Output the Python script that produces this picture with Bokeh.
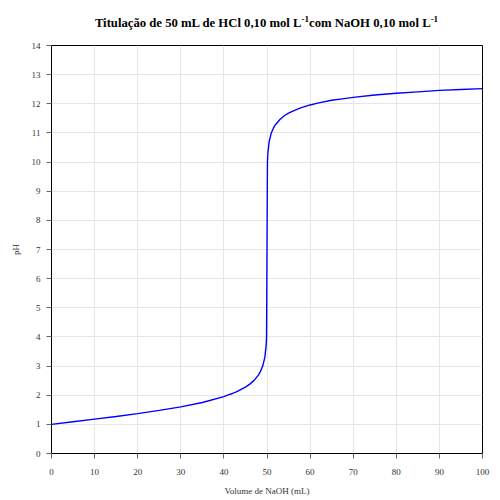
from bokeh.plotting import figure
from bokeh.models import SingleIntervalTicker, Range1d, Div
from bokeh.layouts import column
from bokeh.embed import file_html
from bokeh.resources import INLINE

# Volume of NaOH added (mL) and resulting pH
volume_ml = [0, 5, 10, 15, 20, 25, 30, 35, 40, 41, 42, 43, 44, 45, 46, 47, 48,
             48.5, 49, 49.5, 49.8, 49.9, 50, 50.1, 50.2, 50.5, 51, 51.5, 52, 53,
             54, 55, 56, 57.5, 58, 60, 62, 65, 67.5, 70, 75, 80, 85, 90, 95, 100]
ph_values = [1.00, 1.09, 1.18, 1.27, 1.37, 1.48, 1.60, 1.75, 1.95, 2.01, 2.06,
             2.12, 2.20, 2.28, 2.38, 2.51, 2.69, 2.82, 3.00, 3.30, 3.70, 4.00,
             7.00, 10.00, 10.30, 10.70, 11.00, 11.17, 11.29, 11.46, 11.59, 11.68,
             11.75, 11.84, 11.87, 11.96, 12.03, 12.12, 12.17, 12.22, 12.30,
             12.36, 12.41, 12.46, 12.49, 12.52]

title_html = ("Titulação de 50 mL de HCl 0,10 mol L<sup style='font-size:9px'>-1</sup>"
              "com NaOH 0,10 mol L<sup style='font-size:9px'>-1</sup>")
x_label = "Volume de NaOH (mL)"
y_label = "pH"

FONT = "Liberation Serif"

title_div = Div(
    text=("<div style=\"font-family:'Liberation Serif';font-size:12.7px;font-weight:bold;"
          "color:#000;line-height:13px;text-align:center;width:490px;box-sizing:border-box;"
          "padding-left:43px;padding-top:13px;white-space:nowrap;\">"
          + title_html + "</div>"),
    width=490, height=37, margin=0)

p = figure(width=490, height=453, output_backend="svg", toolbar_location=None,
           x_range=Range1d(0, 100), y_range=Range1d(0, 14),
           min_border_left=51, min_border_right=8, min_border_top=8,
           min_border_bottom=37, margin=0)

p.frame_width = 431
p.frame_height = 408

p.line(volume_ml, ph_values, line_color="#0000ff", line_width=1.4)

p.xaxis.ticker = SingleIntervalTicker(interval=10, num_minor_ticks=0)
p.yaxis.ticker = SingleIntervalTicker(interval=1, num_minor_ticks=0)

for ax in (p.xaxis, p.yaxis):
    ax.axis_line_color = "#000000"
    ax.axis_line_width = 1
    ax.major_tick_line_color = "#666666"
    ax.major_tick_out = 5
    ax.major_tick_in = 0
    ax.minor_tick_line_color = None
    ax.major_label_text_font = FONT
    ax.major_label_text_font_size = "9px"
    ax.major_label_text_color = "#333333"
    ax.axis_label_text_font = FONT
    ax.axis_label_text_font_size = "9px"
    ax.axis_label_text_font_style = "normal"
    ax.axis_label_text_color = "#333333"

p.xaxis.axis_label = x_label
p.yaxis.axis_label = y_label
p.xaxis.major_label_standoff = 10
p.xaxis.axis_label_standoff = 8
p.yaxis.major_label_standoff = 6
p.yaxis.axis_label_standoff = 8

p.grid.grid_line_color = "#e6e6e6"
p.grid.grid_line_width = 1
p.outline_line_color = "#000000"
p.outline_line_width = 1
p.background_fill_color = "#ffffff"
p.border_fill_color = "#ffffff"

layout = column(title_div, p, spacing=0, margin=0)

open("out.html", "w").write(file_html(layout, INLINE))
